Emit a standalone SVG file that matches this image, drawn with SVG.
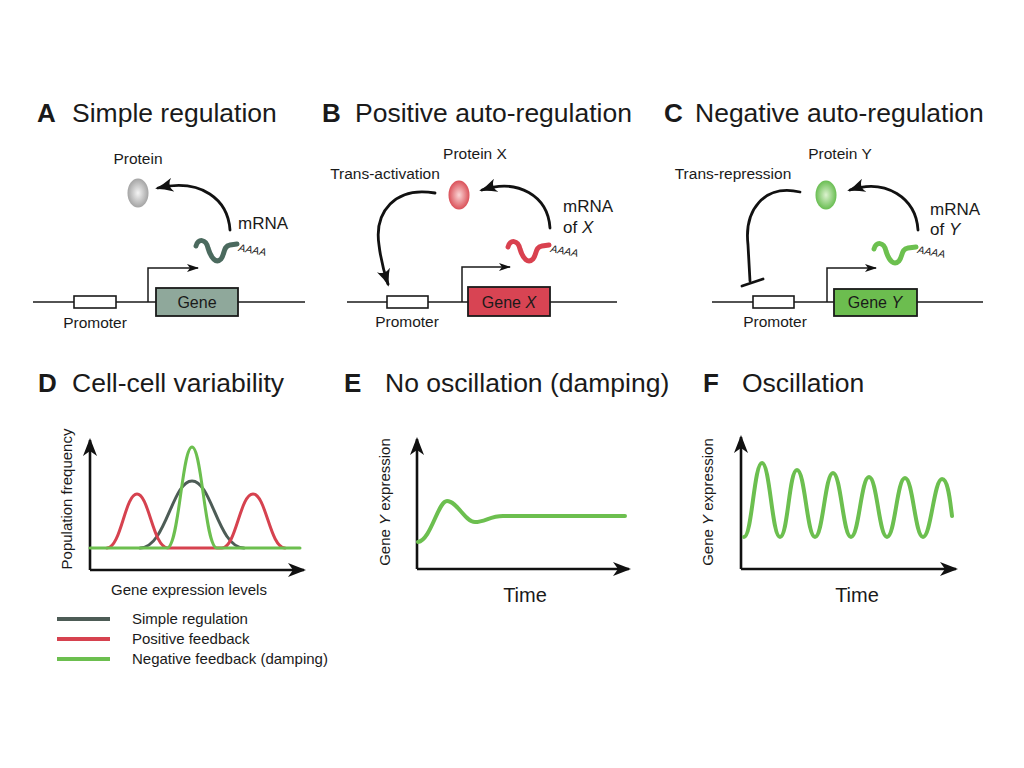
<svg xmlns="http://www.w3.org/2000/svg" width="1024" height="768" viewBox="0 0 1024 768">
<style>
text{font-family:"Liberation Sans",Arial,sans-serif;fill:#1a1a1a}
.title{font-size:26.5px}
.letter{font-size:26px;font-weight:bold}
.lbl{font-size:15.5px}
.mrna{font-size:17px}
.gene{font-size:16px}
.aaaa{font-size:10.5px;font-style:italic}
.axl{font-size:15px}
.time{font-size:20px}
.dna{stroke:#1a1a1a;stroke-width:1.6;fill:none}
.prom{fill:#fff;stroke:#1a1a1a;stroke-width:1.6}
.gbox{stroke:#1a1a1a;stroke-width:1.8}
.tx{stroke:#1a1a1a;stroke-width:1.5;fill:none}
.curve{stroke:#111;stroke-width:2.8;fill:none;stroke-linecap:round}
.rna{stroke-width:5;fill:none;stroke-linecap:round;stroke-linejoin:round}
.axis{stroke:#111;stroke-width:2.6;fill:none}
.plot{fill:none;stroke-linecap:round;stroke-linejoin:round}
</style>
<defs>
<marker id="barb" markerUnits="userSpaceOnUse" viewBox="0 0 18 14" refX="15" refY="7" markerWidth="18" markerHeight="14" orient="auto">
<path d="M0,0 Q9,5 18,7 Q9,9 0,14 Q6,7 0,0 z" fill="#111"/>
</marker>
<marker id="small" markerUnits="userSpaceOnUse" viewBox="0 0 12 8" refX="11" refY="4" markerWidth="12" markerHeight="8" orient="auto">
<path d="M0,0 L12,4 L0,8 L3,4 z" fill="#111"/>
</marker>
<marker id="ax" markerUnits="userSpaceOnUse" viewBox="0 0 18 14" refX="16" refY="7" markerWidth="18" markerHeight="14" orient="auto">
<path d="M0,0 L18,7 L0,14 L5,7 z" fill="#111"/>
</marker>
<radialGradient id="gGray" cx="0.5" cy="0.5" r="0.55">
<stop offset="0" stop-color="#f4f4f4"/><stop offset="1" stop-color="#9c9c9c"/>
</radialGradient>
<radialGradient id="gRed" cx="0.5" cy="0.5" r="0.55">
<stop offset="0" stop-color="#fbd6d6"/><stop offset="1" stop-color="#d7434c"/>
</radialGradient>
<radialGradient id="gGreen" cx="0.5" cy="0.5" r="0.55">
<stop offset="0" stop-color="#dcf2cf"/><stop offset="1" stop-color="#5db845"/>
</radialGradient>
</defs>
<rect width="1024" height="768" fill="#fff"/>

<!-- Panel titles -->
<g id="titles">
<text class="letter" x="37" y="122">A</text><text class="title" x="72" y="122">Simple regulation</text>
<text class="letter" x="322" y="122">B</text><text class="title" x="355" y="122">Positive auto-regulation</text>
<text class="letter" x="664" y="122">C</text><text class="title" x="695" y="122">Negative auto-regulation</text>
<text class="letter" x="38" y="392">D</text><text class="title" x="72" y="392">Cell-cell variability</text>
<text class="letter" x="344" y="392">E</text><text class="title" x="385" y="392">No oscillation (damping)</text>
<text class="letter" x="703" y="392">F</text><text class="title" x="742" y="392">Oscillation</text>
</g>

<!-- Panel A -->
<g id="panelA">
<line class="dna" x1="33" y1="302" x2="305" y2="302"/>
<rect class="prom" x="74" y="296" width="42" height="12"/>
<rect class="gbox" x="156" y="288" width="82" height="28" fill="#8fa89b"/>
<text class="gene" x="197" y="308" text-anchor="middle">Gene</text>
<text class="lbl" x="95" y="328" text-anchor="middle">Promoter</text>
<path class="tx" d="M148,302 V268 H198" marker-end="url(#small)"/>
<path class="rna" stroke="#4b6a5e" d="M196,246 C198,238 206,239 208,248 C211,258 216,264 221,259 C225,254 223,246 230,245 L237,244"/>
<text class="aaaa" x="238" y="251" transform="rotate(10 238 251)">AAAA</text>
<text class="mrna" x="238" y="229">mRNA</text>
<ellipse cx="138" cy="193" rx="10.5" ry="14.5" fill="url(#gGray)"/>
<text class="lbl" x="138" y="164" text-anchor="middle">Protein</text>
<path class="curve" d="M230,230 C228,200 202,178 158,188" marker-end="url(#barb)"/>
</g>

<!-- Panel B -->
<g id="panelB">
<line class="dna" x1="347" y1="302" x2="617" y2="302"/>
<rect class="prom" x="387" y="296" width="41" height="12"/>
<rect class="gbox" x="468" y="287" width="82" height="29" fill="#d84453"/>
<text class="gene" x="509" y="308" text-anchor="middle">Gene <tspan font-style="italic">X</tspan></text>
<text class="lbl" x="407" y="327" text-anchor="middle">Promoter</text>
<path class="tx" d="M462,302 V267 H510" marker-end="url(#small)"/>
<path class="rna" stroke="#d9414f" d="M508,247 C510,239 518,240 520,249 C523,259 528,264 533,259 C537,254 535,247 542,246 L549,245"/>
<text class="aaaa" x="550" y="252" transform="rotate(10 550 252)">AAAA</text>
<text class="mrna" x="563" y="212">mRNA</text>
<text class="mrna" x="563" y="233">of <tspan font-style="italic">X</tspan></text>
<ellipse cx="459" cy="195" rx="10.5" ry="14.5" fill="url(#gRed)"/>
<text class="lbl" x="475" y="159" text-anchor="middle">Protein X</text>
<text class="lbl" x="385" y="179" text-anchor="middle">Trans-activation</text>
<path class="curve" d="M550,228 C548,196 518,178 482,190" marker-end="url(#barb)"/>
<path class="curve" d="M435,193 C395,186 374,212 379,245 C381,262 384,272 388,284" marker-end="url(#barb)"/>
</g>

<!-- Panel C -->
<g id="panelC">
<line class="dna" x1="712" y1="302" x2="983" y2="302"/>
<rect class="prom" x="753" y="296" width="41" height="12"/>
<rect class="gbox" x="834" y="289" width="83" height="27" fill="#6cbd4f"/>
<text class="gene" x="875" y="308" text-anchor="middle">Gene <tspan font-style="italic">Y</tspan></text>
<text class="lbl" x="775" y="327" text-anchor="middle">Promoter</text>
<path class="tx" d="M827,302 V268 H876" marker-end="url(#small)"/>
<path class="rna" stroke="#6cc04f" d="M874,249 C876,241 884,242 886,251 C889,261 894,266 899,261 C903,256 901,249 908,248 L916,247"/>
<text class="aaaa" x="917" y="253" transform="rotate(10 917 253)">AAAA</text>
<text class="mrna" x="930" y="215">mRNA</text>
<text class="mrna" x="930" y="235">of <tspan font-style="italic">Y</tspan></text>
<ellipse cx="826" cy="195" rx="10.5" ry="14.5" fill="url(#gGreen)"/>
<text class="lbl" x="840" y="159" text-anchor="middle">Protein Y</text>
<text class="lbl" x="733" y="179" text-anchor="middle">Trans-repression</text>
<path class="curve" d="M918,230 C916,198 886,178 850,190" marker-end="url(#barb)"/>
<path class="curve" d="M800,192 C764,184 744,210 748,245 L750,281"/>
<line class="curve" x1="742" y1="286" x2="763" y2="279"/>
</g>

<!-- Panel D -->
<g id="panelD">
<path class="axis" d="M90,570 V440" marker-end="url(#ax)"/>
<path class="axis" d="M90,570 H304" marker-end="url(#ax)"/>
<path class="plot" stroke="#4d5c56" stroke-width="3" d="M140,548 C166,548 172,481 192,481 C212,481 218,548 244,548"/>
<path class="plot" stroke="#d6424f" stroke-width="3" d="M107,548 C121,548 125,494 137,494 C149,494 153,548 168,548 L222,548 C236,548 240,494 253,494 C266,494 270,548 285,548"/>
<path class="plot" stroke="#6cbf4f" stroke-width="3" d="M90,548 L167,548 C179,548 182,447 192,447 C202,447 205,548 217,548 L300,548"/>
<text class="axl" transform="translate(72,499) rotate(-90)" text-anchor="middle">Population frequency</text>
<text class="axl" x="189" y="595" text-anchor="middle">Gene expression levels</text>
<line x1="57" y1="619" x2="110" y2="619" stroke="#4d5c56" stroke-width="4"/>
<line x1="57" y1="639" x2="110" y2="639" stroke="#d6424f" stroke-width="4"/>
<line x1="57" y1="659" x2="110" y2="659" stroke="#6cbf4f" stroke-width="4"/>
<text class="axl" x="132" y="624">Simple regulation</text>
<text class="axl" x="132" y="644">Positive feedback</text>
<text class="axl" x="132" y="664">Negative feedback (damping)</text>
</g>

<!-- Panel E -->
<g id="panelE">
<path class="axis" d="M417,569 V439" marker-end="url(#ax)"/>
<path class="axis" d="M417,569 H629" marker-end="url(#ax)"/>
<path class="plot" stroke="#6cbf4f" stroke-width="4" d="M418,542 C431,540 438,501 447,501 C457,501 465,522 475,522 C485,522 490,516 503,516 L625,516"/>
<text class="axl" transform="translate(390,502) rotate(-90)" text-anchor="middle">Gene <tspan font-style="italic">Y</tspan> expression</text>
<text class="time" x="525" y="602" text-anchor="middle">Time</text>
</g>

<!-- Panel F -->
<g id="panelF">
<path class="axis" d="M741,569 V437" marker-end="url(#ax)"/>
<path class="axis" d="M741,569 H956" marker-end="url(#ax)"/>
<path class="plot" stroke="#6cbf4f" stroke-width="4" d="M744,537 C752,537 754,463 762,463 C770,463 772,537 780,537 C788,537 789,470 797,470 C805,470 807,537 815,537 C823,537 825,473 833,473 C841,473 843,537 851,537 C859,537 861,477 869,477 C877,477 879,537 887,537 C895,537 897,478 905,478 C913,478 915,537 923,537 C931,537 934,479 942,479 C948,479 950,500 952,516"/>
<text class="axl" transform="translate(713,502) rotate(-90)" text-anchor="middle">Gene <tspan font-style="italic">Y</tspan> expression</text>
<text class="time" x="857" y="602" text-anchor="middle">Time</text>
</g>
</svg>
